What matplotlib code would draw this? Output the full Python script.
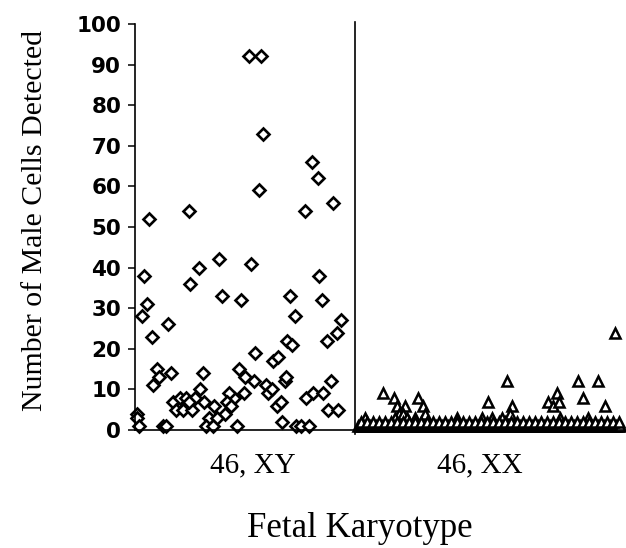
import matplotlib
matplotlib.use("Agg")
import matplotlib.pyplot as plt

# x positions are just the spread of samples inside each karyotype group
# (group 46,XY spans 0-220, group 46,XX spans 220-490)
xy_x = [114, 126, 128, 177, 183, 124, 198, 54, 170, 14,
        9, 84, 64, 116, 55, 184, 87, 106, 155, 187, 12, 7, 160, 33, 206, 202,
        17, 152, 157, 192, 120, 138, 143, 22, 24, 18, 36, 68, 104, 110, 119,
        131, 133, 137, 150, 196, 65, 109, 99, 94, 38, 45, 51, 60, 69, 41, 48,
        57, 54, 79, 92, 96, 90, 74, 82, 71, 78, 102, 142, 146, 147, 171, 178,
        188, 193, 203, 161, 166, 174, 2, 2, 4, 28, 31, 151]
xy_y = [92, 92, 73, 66, 62, 59, 56, 54, 54, 52,
        38, 42, 40, 41, 36, 38, 33, 32, 33, 32, 31, 28, 28, 26, 27, 24,
        23, 22, 21, 22, 19, 17, 18, 15, 13, 11, 14, 14, 15, 13, 12,
        11, 9, 10, 12, 12, 10, 9, 8, 9, 7, 8, 8, 8, 7, 5, 5,
        5, 7, 6, 7, 6, 4, 3, 3, 1, 1, 1, 6, 7, 2, 8, 9,
        9, 5, 5, 1, 1, 1, 4, 3, 1, 1, 1, 13]

# 46,XX: a few outliers, then the crowded band of near-zero counts
xx_x = [248, 259, 283, 262, 270, 288, 264, 268, 290, 260, 272, 230, 280,
        372, 353, 377, 322, 347, 357, 367, 375,
        443, 463, 448, 413, 422, 418, 424, 470, 425, 453, 480,
        223, 225, 227, 229, 231, 233, 235, 237, 239, 241, 243, 245, 247, 249,
        251, 253, 255, 257, 259, 261, 263, 265, 267, 269, 271, 273, 275, 277,
        279, 281, 283, 285, 287, 289, 291, 293, 295, 297, 299, 301, 303, 305,
        307, 309, 311, 313, 315, 317, 319, 321, 323, 325, 327, 329, 331, 333,
        335, 337, 339, 341, 343, 345, 347, 349, 351, 353, 355, 357, 359, 361,
        363, 365, 367, 369, 371, 373, 375, 377, 379, 381, 383, 385, 387, 389,
        391, 393, 395, 397, 399, 401, 403, 405, 407, 409, 411, 413, 415, 417,
        419, 421, 423, 425, 427, 429, 431, 433, 435, 437, 439, 441, 443, 445,
        447, 449, 451, 453, 455, 457, 459, 461, 463, 465, 467, 469, 471, 473,
        475, 477, 479, 481, 483, 485,
        226, 232, 238, 244, 250, 256, 262, 268, 274, 280, 286, 292, 298, 304,
        310, 316, 322, 328, 334, 340, 346, 352, 358, 364, 370, 376, 382, 388,
        394, 400, 406, 412, 418, 424, 430, 436, 442, 448, 454, 460, 466, 472,
        478, 484]
xx_y = [9, 8, 8, 6, 6, 6, 4, 4, 4, 3, 3, 3, 3,
        12, 7, 6, 3, 3, 3, 3, 4,
        12, 12, 8, 7, 9, 6, 7, 6, 3, 3, 24,
        1, 1, 1, 1, 1, 1, 1, 1, 1, 1, 1, 1, 1, 1,
        1, 1, 1, 1, 1, 1, 1, 1, 1, 1, 1, 1, 1, 1,
        1, 1, 1, 1, 1, 1, 1, 1, 1, 1, 1, 1, 1, 1,
        1, 1, 1, 1, 1, 1, 1, 1, 1, 1, 1, 1, 1, 1,
        1, 1, 1, 1, 1, 1, 1, 1, 1, 1, 1, 1, 1, 1,
        1, 1, 1, 1, 1, 1, 1, 1, 1, 1, 1, 1, 1, 1,
        1, 1, 1, 1, 1, 1, 1, 1, 1, 1, 1, 1, 1, 1,
        1, 1, 1, 1, 1, 1, 1, 1, 1, 1, 1, 1, 1, 1,
        1, 1, 1, 1, 1, 1, 1, 1, 1, 1, 1, 1, 1, 1,
        1, 1, 1, 1, 1, 1,
        2, 2, 2, 2, 2, 2, 2, 2, 2, 2, 2, 2, 2, 2,
        2, 2, 2, 2, 2, 2, 2, 2, 2, 2, 2, 2, 2, 2,
        2, 2, 2, 2, 2, 2, 2, 2, 2, 2, 2, 2, 2, 2,
        2, 2]

yticks = [0, 10, 20, 30, 40, 50, 60, 70, 80, 90, 100]
groups = ["46, XY", "46, XX"]
group_centers = [118, 345]

fig = plt.figure(figsize=(6.26, 5.48), dpi=100)
ax = fig.add_axes([0.2157, 0.2153, 0.7827, 0.7409])

ax.plot(xy_x, xy_y, linestyle="none", marker="D", ms=5.8,
        mfc="white", mec="black", mew=1.9, clip_on=False)
ax.plot(xx_x, xx_y, linestyle="none", marker="^", ms=7,
        mfc="white", mec="black", mew=1.8, clip_on=False)

ax.axvline(220, ymin=-0.01, ymax=1.005, color="black", lw=1.2, clip_on=False)

ax.set_xlim(0, 490)
ax.set_ylim(0, 100)
ax.set_yticks(yticks)
ax.set_yticklabels([str(t) for t in yticks], fontfamily="DejaVu Sans",
                   fontweight="bold", fontsize=15.5)
ax.tick_params(axis="y", direction="out", length=5, width=1.1, pad=5)
ax.set_xticks(group_centers)
ax.set_xticklabels(groups, fontfamily="Liberation Serif", fontsize=21)
ax.tick_params(axis="x", length=0, pad=16)

for s in ["top", "right"]:
    ax.spines[s].set_visible(False)
for s in ["left", "bottom"]:
    ax.spines[s].set_linewidth(1.2)

fig.text(35 / 626, 1 - 220 / 548, "Number of Male Cells Detected",
         family="Liberation Serif", fontsize=21.5, rotation=90,
         ha="center", va="center")
fig.text(360 / 626, 1 - 537 / 548, "Fetal Karyotype",
         family="Liberation Serif", fontsize=25, ha="center", va="baseline")

fig.savefig("out.png", dpi=100)
